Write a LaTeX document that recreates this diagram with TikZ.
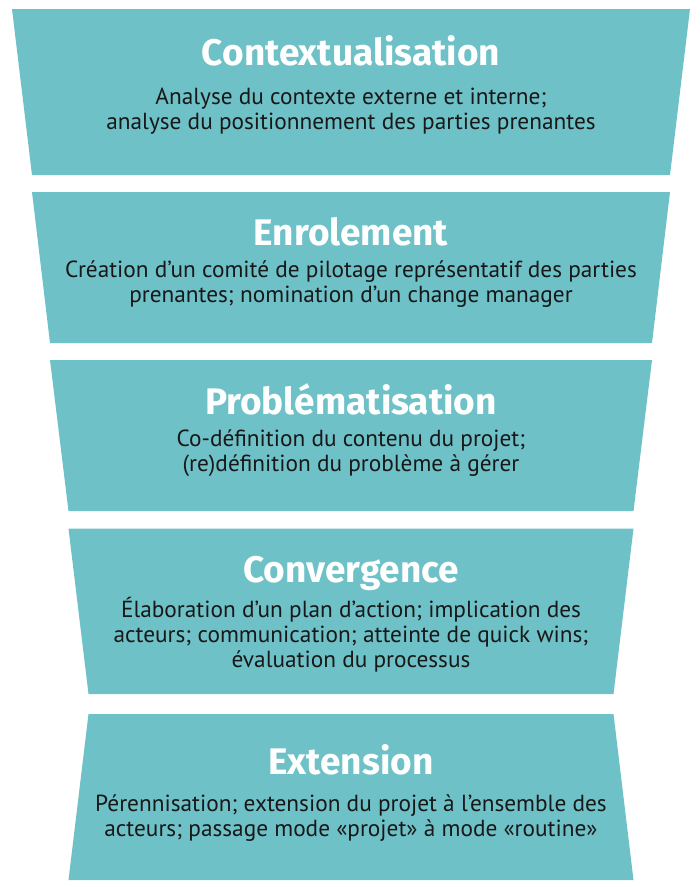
\documentclass[tikz,border=0pt]{standalone}
\usepackage{fontspec}
\setmainfont{PT Sans}
\newfontfamily\headfont{Fira Sans}
\usepackage{tikz}
\definecolor{funnel}{RGB}{111,193,200}
\definecolor{ink}{RGB}{24,24,24}

\begin{document}
\begin{tikzpicture}[x=1pt,y=-1pt,
    stage/.style={fill=funnel},
    title/.style={font=\headfont\bfseries\fontsize{37}{42}\selectfont,text=white,anchor=base},
    body/.style={font=\fontsize{23.3}{25}\selectfont,text=ink,align=center,anchor=base}]
  \useasboundingbox (0,0) rectangle (700,887);
  \foreach \t/\b/\u/\v in {9/175/339/319, 192/343/319/301, 360/511/301/282.5,
                           528.5/694/282.5/262.5, 714/880/262.5/282.5}
    \fill[stage] (351-\u,\t) -- (351+\u,\t) -- (351+\v,\b) -- (351-\v,\b) -- cycle;

  \node[title] (context) at (351,65) {Contextualisation};
  \node[body] (contexttext) at (351,129) {Analyse du contexte externe et interne;\\
    analyse du positionnement des parties prenantes};

  \node[title] (enrol) at (351,245) {Enrolement};
  \node[body] (enroltext) at (351,302) {Création d’un comité de pilotage représentatif des parties\\
    prenantes; nomination d’un change manager};

  \node[title] (problem) at (351,414) {Problématisation};
  \node[body] (problemtext) at (351,471) {Co-définition du contenu du projet;\\
    (re)définition du problème à gérer};

  \node[title] (converge) at (351,582) {Convergence};
  \node[body] (convergetext) at (351,667) {Élaboration d’un plan d’action; implication des\\
    acteurs; communication; atteinte de quick wins;\\ évaluation du processus};

  \node[title] (extend) at (351,774) {Extension};
  \node[body] (extendtext) at (351,836) {Pérennisation; extension du projet à l’ensemble des\\
    acteurs; passage mode «projet» à mode «routine»};
\end{tikzpicture}
\end{document}
